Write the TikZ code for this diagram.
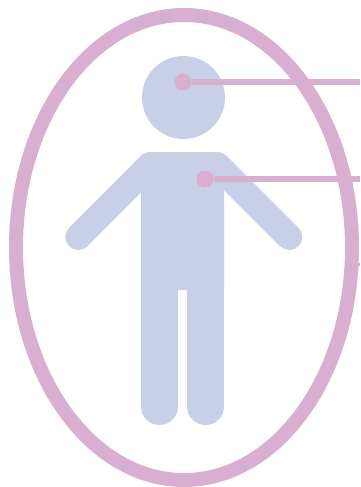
\documentclass[tikz,border=0pt]{standalone}
\usepackage{xcolor}
\usetikzlibrary{positioning, shapes.geometric}
\definecolor{figureblue}{HTML}{C9CFE7}
\definecolor{markpink}{HTML}{D9AFD1}

\begin{document}
\begin{tikzpicture}[
        x=1pt, y=-1pt,
        limb/.style={line width=26pt, line cap=round, color=figureblue},
        leg/.style={line width=37pt, line cap=round, color=figureblue},
        dot/.style={circle, fill=markpink, inner sep=0pt, minimum size=17pt},
        rel/.style={line width=5.5pt, color=markpink}
    ]
        \useasboundingbox (0,0) rectangle (360,487);

        % Person
        \node[circle, fill=figureblue, inner sep=0pt, minimum size=83pt] (head) at (183.5,97.5) {};
        \fill[figureblue] (130,166.6) [rounded corners=5pt] -- (144.6,152) -- (222.4,152)
            [sharp corners] -- (237,166.6) -- (224,180) -- (224,290) -- (141,290) -- (141,180) -- cycle;
        \coordinate (lhand) at (78.3,237);
        \coordinate (lshoulder) at (150,165.3);
        \coordinate (rhand) at (289.3,237);
        \coordinate (rshoulder) at (217.6,165.3);
        \draw[limb] (lhand) -- (lshoulder);
        \draw[limb] (rhand) -- (rshoulder);
        \coordinate (lhip) at (159.5,285);
        \coordinate (lfoot) at (159.5,406.5);
        \coordinate (rhip) at (205.5,285);
        \coordinate (rfoot) at (205.5,406.5);
        \draw[leg] (lhip) -- (lfoot);
        \draw[leg] (rhip) -- (rfoot);

        % Outline and markers
        \node[dot] (headdot) at (183,82) {};
        \node[dot] (chestdot) at (205,179) {};
        \coordinate (headend) at (360,82);
        \coordinate (chestend) at (360,179);
        \coordinate (skinstart) at (350,264.5);
        \coordinate (skinend) at (360,264.5);
        \draw[rel] (headdot) -- (headend);
        \draw[rel] (chestdot) -- (chestend);
        \draw[rel, line width=3pt] (skinstart) -- (skinend);
        \node[ellipse, draw=markpink, line width=14pt, inner sep=0pt, minimum width=336pt, minimum height=465pt] (outline) at (184,247.5) {};
    \end{tikzpicture}
\end{document}
